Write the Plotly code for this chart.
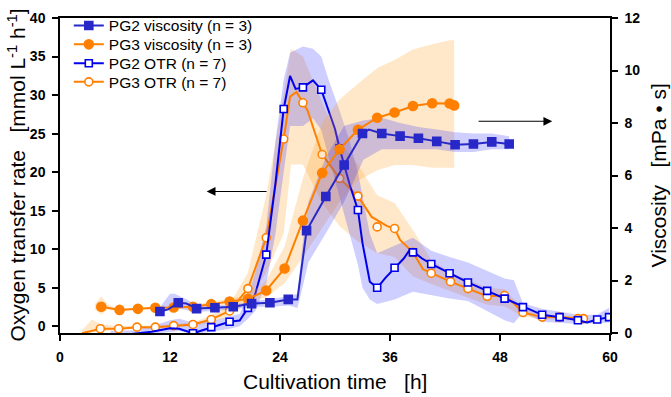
import plotly.graph_objects as go

# ---------------- data ----------------
# PG2 OTR (left axis)  - line and open-square markers
pg2_otr_x = [5.5, 8.0, 10.0, 12.0, 13.0, 14.5, 16.5, 18.5, 19.6, 20.5, 21.3, 22.5, 23.5, 24.4, 25.1, 25.7,
             26.5, 27.6, 28.5, 29.3, 30.0, 30.5, 31.6, 32.5, 33.0, 33.8, 34.6, 35.5, 36.5, 37.5, 38.2, 39.5,
             40.5, 42.5, 44.5, 46.6, 48.5, 50.5, 52.6, 54.5, 56.5, 57.5, 58.6, 59.9]
pg2_otr_y = [-1.3, -1.0, -0.7, -0.25, -0.3, -0.9, -0.1, 0.6, 0.75, 2.4, 4.2, 9.3, 18.5, 28.2, 32.5, 30.8,
             31.0, 31.9, 30.7, 28.0, 25.6, 23.1, 18.4, 15.1, 10.8, 5.8, 5.0, 6.3, 7.6, 8.8, 10.0, 8.8,
             8.1, 6.9, 5.7, 4.6, 3.6, 2.5, 1.5, 1.2, 0.8, 0.5, 0.9, 1.2]
pg2_otr_mx = [14.5, 16.5, 18.5, 20.5, 22.5, 24.4, 26.5, 28.5, 30.5, 32.5, 34.6, 36.5, 38.5, 40.5, 42.5,
              44.5, 46.6, 48.5, 50.5, 52.6, 54.5, 56.5, 58.6, 59.9]
pg2_otr_my = [-0.9, -0.1, 0.6, 2.4, 9.3, 28.2, 31.0, 30.7, 23.1, 15.1, 5.0, 7.6, 9.6, 8.1, 6.9,
              5.7, 4.6, 3.6, 2.5, 1.5, 1.2, 0.8, 0.9, 1.2]
pg2_otr_bx = [5.5, 8.0, 10.0, 12.0, 13.0, 14.5, 16.5, 18.5, 19.6, 20.5, 21.3, 22.5, 23.5, 24.4, 25.1, 26.5,
              27.6, 28.5, 29.3, 30.5, 31.6, 32.5, 33.0, 33.8, 34.6, 36.5, 38.5, 40.5, 42.5, 44.5, 46.6,
              48.5, 49.5, 50.5, 52.6, 54.5, 56.5, 58.6, 59.9]
pg2_otr_lo = [-1.3, -1.2, -1.0, -0.7, -0.6, -1.0, -0.7, -0.3, 0.0, 1.0, 2.0, 5.5, 12, 20, 26, 26,
              27, 25.5, 22, 17, 12, 8, 5, 3.5, 2.9, 3.5, 4.5, 4.0, 3.6, 3.3, 2.0,
              0.8, 0.4, 1.8, 0.6, 0.5, 0.3, 0.4, 0.5]
pg2_otr_hi = [-0.6, -0.5, 0.0, 0.8, 1.0, 0.5, 0.6, 1.3, 1.6, 4.0, 7, 13, 24, 32, 35.5, 36.3,
              36, 35, 32, 28, 24, 20, 17, 12, 9.5, 10.5, 11.5, 9.8, 9.0, 8.3, 7.2,
              6.2, 6.0, 3.0, 2.3, 1.9, 1.5, 1.5, 2.4]

# PG3 OTR (left axis) - line and open-circle markers
pg3_otr_x = [2.4, 4.4, 6.4, 8.4, 10.4, 12.4, 14.5, 16.5, 18.5, 20.5, 22.5, 24.4, 25.1, 25.8, 26.5, 27.0,
             28.6, 30.5, 32.5, 34.0, 35.7, 36.5, 37.1, 38.5, 39.6, 40.5, 42.6, 44.5, 46.6, 48.5, 49.5,
             50.5, 52.6, 54.5, 56.5, 57.1]
pg3_otr_y = [-0.9, -0.3, -0.3, -0.1, -0.1, 0.1, 0.25, 0.9, 2.0, 4.9, 11.5, 24.3, 29.8, 30.4, 29.0, 28.0,
             22.3, 19.2, 16.9, 14.2, 13.0, 12.7, 11.2, 9.6, 7.4, 6.9, 5.8, 4.9, 3.9, 4.0, 3.0,
             1.8, 1.2, 1.2, 1.0, 1.0]
pg3_otr_mx = [4.4, 6.4, 8.4, 10.4, 12.4, 14.5, 16.5, 18.5, 20.5, 22.5, 24.4, 26.5, 28.6, 30.5, 32.5,
              34.6, 36.5, 38.5, 40.5, 42.6, 44.5, 46.6, 48.5, 50.5, 52.6, 54.5, 56.5, 57.1]
pg3_otr_my = [-0.3, -0.3, -0.1, -0.1, 0.1, 0.25, 0.9, 2.0, 4.9, 11.5, 24.3, 29.0, 22.3, 19.2, 16.9,
              12.9, 12.7, 9.6, 6.9, 5.8, 4.9, 3.9, 4.0, 1.8, 1.2, 1.2, 1.0, 1.0]
pg3_otr_bx = [2.4, 3.5, 4.4, 6.4, 8.4, 10.4, 12.4, 14.5, 16.5, 18.5, 20.5, 22.5, 24.4, 25.2, 26.5, 28.6,
              30.5, 32.5, 34.6, 36.5, 38.5, 40.5, 42.6, 44.5, 46.6, 48.5, 50.5, 52.6, 54.5, 56.5, 57.1]
pg3_otr_lo = [-1.0, -0.8, -0.6, -0.5, -0.3, -0.3, -0.1, 0.0, 0.5, 1.3, 3.2, 7.0, 12, 21, 21, 16,
              13, 11, 9.5, 9.0, 6.5, 5.5, 4.6, 3.8, 2.8, 2.6, 1.3, 0.9, 0.9, 0.7, 0.7]
pg3_otr_hi = [-0.5, 0.9, 0.3, 0.0, 0.1, 0.1, 0.3, 0.5, 1.4, 2.8, 7.0, 17, 30, 36, 35, 29,
              24, 21, 17, 16, 12.5, 8.6, 7.0, 6.0, 5.0, 4.8, 2.3, 1.5, 1.4, 1.2, 1.2]

# PG2 viscosity (right axis) - line and filled-square markers
pg2_vis_x = [10.7, 10.9, 11.8, 12.9, 13.8, 14.9, 16.9, 18.9, 20.9, 22.9, 24.9, 25.9, 26.4, 26.9, 29.0,
             31.0, 33.0, 33.7, 35.1, 37.1, 39.1, 41.1, 43.1, 45.1, 47.1, 49.0]
pg2_vis_y = [0.78, 0.82, 0.9, 1.15, 1.12, 0.93, 0.96, 1.0, 1.12, 1.15, 1.28, 1.28, 2.6, 3.9, 5.2,
             6.4, 7.6, 7.75, 7.6, 7.5, 7.42, 7.3, 7.17, 7.2, 7.28, 7.2]
pg2_vis_mx = [10.9, 12.9, 14.9, 16.9, 18.9, 20.9, 22.9, 24.9, 26.9, 29.0, 31.0, 33.0, 35.1, 37.1, 39.1,
              41.1, 43.1, 45.1, 47.1, 49.0]
pg2_vis_my = [0.82, 1.15, 0.93, 0.96, 1.0, 1.12, 1.15, 1.28, 3.9, 5.2, 6.4, 7.6, 7.6, 7.5, 7.42,
              7.3, 7.17, 7.2, 7.28, 7.2]
pg2_vis_bx = [10.7, 12.0, 12.5, 14.0, 15.0, 17, 19, 21, 23, 25, 25.9, 26.5, 27.1, 29.0, 31.0, 33.1,
              35.1, 37.1, 39.1, 41.1, 43.1, 45.1, 47.1, 49.0]
pg2_vis_lo = [0.65, 0.95, 0.95, 0.85, 0.8, 0.85, 0.9, 1.0, 1.0, 1.05, 0.95, 1.8, 2.7, 3.8, 5.0, 6.6,
              7.0, 7.0, 7.0, 7.0, 6.9, 6.9, 7.0, 7.0]
pg2_vis_hi = [0.9, 1.5, 1.5, 1.25, 1.05, 1.05, 1.1, 1.2, 1.3, 1.4, 1.5, 3.5, 5.0, 6.7, 7.9, 8.1,
              8.2, 8.0, 7.85, 7.75, 7.65, 7.6, 7.6, 7.5]

# PG3 viscosity (right axis) - line and filled-circle markers
pg3_vis_x = [4.5, 6.5, 8.5, 10.4, 12.4, 14.5, 16.5, 18.5, 20.5, 22.5, 24.5, 26.5, 28.6, 30.5, 32.5,
             34.6, 36.5, 38.5, 40.6, 42.5, 43.0]
pg3_vis_y = [1.0, 0.88, 0.92, 0.96, 0.97, 1.0, 1.1, 1.2, 1.3, 1.62, 2.46, 4.28, 6.1, 7.0, 7.74,
             8.2, 8.4, 8.65, 8.75, 8.74, 8.67]
pg3_vis_bx = [3.8, 4.5, 5.2, 6.5, 8.5, 10.4, 12.4, 14.5, 16.5, 18.5, 20.5, 22.5, 24.5, 26.5, 28.6,
              30.5, 32.5, 34.6, 36.5, 38.5, 40.6, 42.5, 43.0]
pg3_vis_lo = [0.9, 0.7, 0.9, 0.85, 0.88, 0.92, 0.93, 0.95, 1.0, 1.1, 1.2, 1.35, 1.9, 2.9, 4.0,
              5.0, 5.8, 6.2, 6.4, 6.4, 6.3, 6.3, 6.3]
pg3_vis_hi = [1.1, 1.4, 1.1, 0.92, 0.96, 1.0, 1.02, 1.06, 1.2, 1.3, 1.45, 2.0, 3.3, 5.9, 8.0,
              8.9, 9.5, 10.1, 10.4, 10.8, 11.0, 11.15, 11.15]

legend_names = ["PG2 viscosity (n = 3)", "PG3 viscosity (n = 3)", "PG2 OTR (n = 7)", "PG3 OTR (n = 7)"]
x_ticks = [0, 12, 24, 36, 48, 60]

# ---------------- styling ----------------
BLUE = "rgb(0,0,235)"
BLUE_V = "rgb(40,40,200)"
ORANGE = "rgb(255,128,0)"
BLUE_BAND = "rgba(30,30,255,0.22)"
ORANGE_BAND = "rgba(255,160,40,0.25)"
FONT = "Arial, Liberation Sans, sans-serif"

fig = go.Figure()


def band(bx, lo, hi, color, yaxis):
    fig.add_trace(go.Scatter(x=list(bx) + list(bx)[::-1], y=list(lo) + list(hi)[::-1],
                             fill="toself", fillcolor=color, line=dict(width=0),
                             mode="lines", hoverinfo="skip", showlegend=False, yaxis=yaxis))


band(pg3_vis_bx, pg3_vis_lo, pg3_vis_hi, ORANGE_BAND, "y2")
band(pg3_otr_bx, pg3_otr_lo, pg3_otr_hi, ORANGE_BAND, "y")
band(pg2_vis_bx, pg2_vis_lo, pg2_vis_hi, BLUE_BAND, "y2")
band(pg2_otr_bx, pg2_otr_lo, pg2_otr_hi, BLUE_BAND, "y")


def series(lx, ly, mx, my, color, symbol, msize, fill, yaxis):
    fig.add_trace(go.Scatter(x=lx, y=ly, mode="lines", line=dict(color=color, width=2),
                             showlegend=False, yaxis=yaxis))
    fig.add_trace(go.Scatter(x=mx, y=my, mode="markers", showlegend=False, yaxis=yaxis,
                             marker=dict(symbol=symbol, size=msize, color=fill,
                                         line=dict(color=color, width=1.6))))


series(pg3_vis_x, pg3_vis_y, pg3_vis_x, pg3_vis_y, ORANGE, "circle", 9, ORANGE, "y2")
series(pg3_otr_x, pg3_otr_y, pg3_otr_mx, pg3_otr_my, ORANGE, "circle", 8, "white", "y")
series(pg2_vis_x, pg2_vis_y, pg2_vis_mx, pg2_vis_my, BLUE_V, "square", 8, BLUE_V, "y2")
series(pg2_otr_x, pg2_otr_y, pg2_otr_mx, pg2_otr_my, BLUE, "square", 7, "white", "y")

# legend entries: one small legend per entry so that row spacing matches the reference
leg_styles = [(BLUE_V, "square", BLUE_V, 8), (ORANGE, "circle", ORANGE, 9), (BLUE, "square", "white", 7),
              (ORANGE, "circle", "white", 8)]
leg_ids = ["legend", "legend2", "legend3", "legend4"]
leg_y = [0.975, 0.915, 0.855, 0.796]
for name, (c, s, f, ms), lid in zip(legend_names, leg_styles, leg_ids):
    fig.add_trace(go.Scatter(x=[None], y=[None], mode="lines+markers", name=name, legend=lid,
                             line=dict(color=c, width=2),
                             marker=dict(symbol=s, size=ms, color=f, line=dict(color=c, width=1.6))))

legend_common = dict(x=0.016, xanchor="left", yanchor="middle", bgcolor="rgba(0,0,0,0)",
                     font=dict(family=FONT, size=15.5, color="black"), itemsizing="trace")
legends = {lid: dict(legend_common, y=ly) for lid, ly in zip(leg_ids, leg_y)}

tickfont = dict(family=FONT, size=14, color="black", weight="bold")
fig.update_layout(
    width=671, height=397,
    margin=dict(l=60, r=61, t=9, b=64),
    plot_bgcolor="white", paper_bgcolor="white",
    font=dict(family=FONT, color="black"),
    showlegend=True,
    xaxis=dict(range=[0, 60], tickvals=x_ticks, showline=True, linecolor="black", linewidth=1.5,
               mirror=True, ticks="outside", ticklen=6, tickwidth=1.5, tickcolor="black",
               showgrid=False, zeroline=False, tickfont=tickfont, ticklabelstandoff=4),
    yaxis=dict(range=[-0.86, 40], tick0=0, dtick=5, showline=True, linecolor="black", linewidth=1.5,
               ticks="outside", ticklen=6, tickwidth=1.5, tickcolor="black",
               showgrid=False, zeroline=False, tickfont=tickfont, ticklabelstandoff=4),
    yaxis2=dict(range=[0, 12], tick0=0, dtick=2, overlaying="y", side="right", showline=True,
                linecolor="black", linewidth=1.5, ticks="outside", ticklen=6, tickwidth=1.5,
                tickcolor="black", showgrid=False, zeroline=False, tickfont=tickfont,
                ticklabelstandoff=4),
    **legends,
)

title_font = dict(family=FONT, size=21, color="black")
NB = "\u00a0\u00a0\u00a0"
fig.add_annotation(x=-0.08, y=0.5, xref="paper", yref="paper", textangle=-90, showarrow=False,
                   xanchor="center", yanchor="middle", font=title_font,
                   text="Oxygen transfer rate" + NB + "[mmol L<sup>-1</sup> h<sup>-1</sup>]")
fig.add_annotation(x=1.089, y=0.5, xref="paper", yref="paper", textangle=-90, showarrow=False,
                   xanchor="center", yanchor="middle", font=title_font,
                   text="Viscosity" + NB + "[mPa • s]")
fig.add_annotation(x=0.5, y=-0.154, xref="paper", yref="paper", showarrow=False,
                   xanchor="center", yanchor="middle", font=title_font,
                   text="Cultivation time" + NB + "[h]")

# arrows
fig.add_annotation(x=16.0, y=17.5, ax=22.7, ay=17.5, xref="x", yref="y", axref="x", ayref="y",
                   text="", showarrow=True, arrowhead=2, arrowsize=1.6, arrowwidth=1.1,
                   arrowcolor="black")
fig.add_annotation(x=53.7, y=26.6, ax=45.5, ay=26.6, xref="x", yref="y", axref="x", ayref="y",
                   text="", showarrow=True, arrowhead=2, arrowsize=1.6, arrowwidth=1.1,
                   arrowcolor="black")

fig.write_html("out.html", config={"displayModeBar": False},
               post_script="document.body.style.margin='0';document.body.style.padding='0';")
